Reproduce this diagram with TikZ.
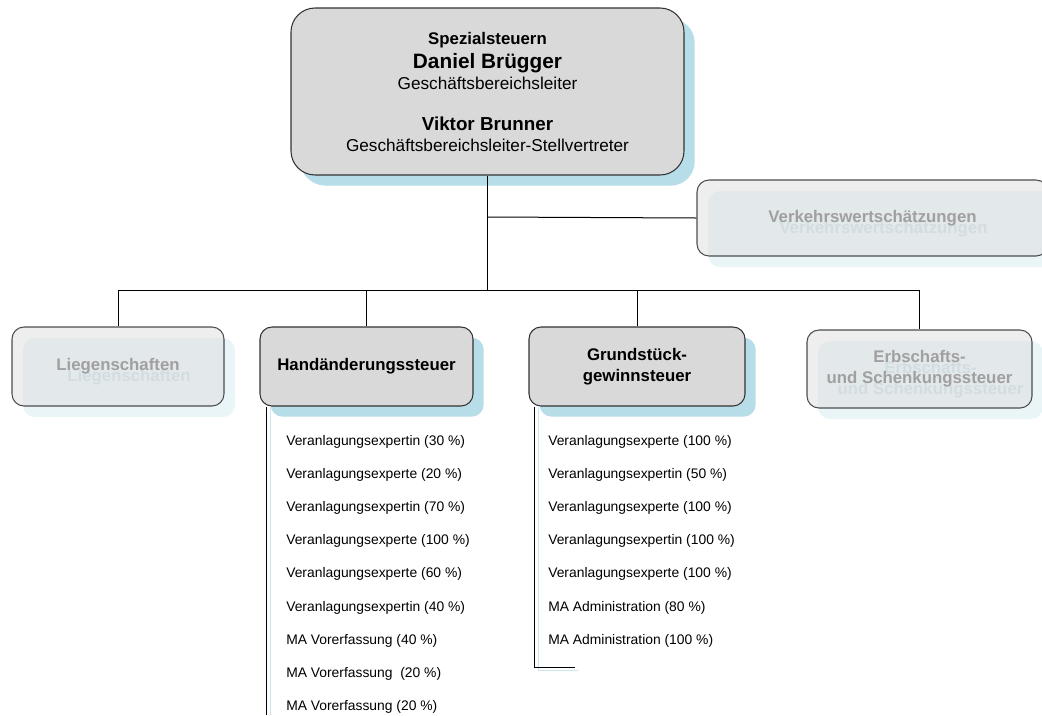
\documentclass[tikz,border=0pt]{standalone}
\usepackage{fontspec}
\setmainfont{Liberation Sans}
\usetikzlibrary{shadows,calc}
\definecolor{boxfill}{HTML}{D9D9D9}
\definecolor{boxline}{HTML}{333333}
\definecolor{shadowblue}{HTML}{B7DDE8}
\definecolor{fadefill}{HTML}{DDDDDD}
\definecolor{fadeshadow}{HTML}{EAF5F8}
\definecolor{fadetext}{HTML}{A0A0A0}
\definecolor{fadeshadowtext}{HTML}{C8DEE6}
\definecolor{fadeline}{HTML}{4D4D4D}
\begin{document}
\begin{tikzpicture}[x=0.75pt,y=-0.75pt,
  hdr/.style={font=\fontsize{12.6}{15.75}\selectfont\bfseries, align=center},
  unit/.style={draw=boxline, fill=boxfill, line width=0.8pt, rounded corners=9pt,
    inner sep=0pt, minimum height=59.25pt, hdr,
    general shadow={fill=shadowblue, shadow xshift=8pt, shadow yshift=-8pt}},
  fshadow/.style={fill=fadeshadow, draw=none, rounded corners=9pt, inner sep=0pt,
    minimum height=59.25pt, hdr, text=fadeshadowtext},
  fbox/.style={draw=fadeline, fill=fadefill, fill opacity=0.5, text opacity=1,
    line width=0.8pt, rounded corners=9pt, inner sep=0pt, minimum height=59.25pt,
    hdr, text=fadetext},
  item/.style={anchor=base west, inner sep=0pt, font=\fontsize{10.4}{12}\selectfont},
  conn/.style={line width=0.75pt, black},
  connshadow/.style={line width=0.75pt, shadowblue!70},
]
\useasboundingbox (0,0) rectangle (1042,715);

% top box
\node[unit, minimum width=294.75pt, minimum height=125.25pt, rounded corners=18pt,
  general shadow={fill=shadowblue, shadow xshift=7pt, shadow yshift=-7.5pt}] (top) at (487.5,91.5) {};
\node[anchor=base, font=\fontsize{12.6}{15}\selectfont\bfseries] (t1) at (487.5,44) {Spezialsteuern};
\node[anchor=base, font=\fontsize{15.6}{18}\selectfont\bfseries] (t2) at (487.5,68) {Daniel Brügger};
\node[anchor=base, font=\fontsize{12.9}{15}\selectfont] (t3) at (487.5,89) {Geschäftsbereichsleiter};
\node[anchor=base, font=\fontsize{14.1}{17}\selectfont\bfseries] (t4) at (487.5,130) {Viktor Brunner};
\node[anchor=base, font=\fontsize{12.9}{15}\selectfont] (t5) at (487.5,151) {Geschäftsbereichsleiter-Stellvertreter};

% faded boxes (shadow first)
\node[fshadow, minimum width=263.25pt, minimum height=57pt] (verks) at (883.5,229) {Verkehrswertschätzungen};
\node[fbox, minimum width=263.25pt, minimum height=57pt] (verk) at (872.5,218) {Verkehrswertschätzungen};

\node[fshadow, minimum width=159pt] (liegs) at (129,377.5) {Liegenschaften};
\node[fbox, minimum width=159pt] (lieg) at (118,366.5) {Liegenschaften};

\node[fshadow, minimum width=168.75pt, minimum height=58.5pt] (erbs) at (930.5,380) {Erbschafts-\\und Schenkungssteuer};
\node[fbox, minimum width=168.75pt, minimum height=58.5pt] (erb) at (919.5,369) {Erbschafts-\\und Schenkungssteuer};

% active boxes
\node[unit, minimum width=159.75pt] (hand) at (366.5,366.5) {Handänderungssteuer};
\node[unit, minimum width=162pt] (grund) at (637,366.5) {Grundstück-\\gewinnsteuer};

% connectors
\coordinate (j1) at (487.5,217);
\coordinate (j2) at (487.5,290);
\draw[conn] (top.south) -- (j2);
\draw[conn] (j1) -- (verk.west);
\draw[conn] (j2) -| (lieg.north);
\draw[conn] (j2) -| (hand.north);
\draw[conn] (j2) -| (grund.north);
\draw[conn] (j2) -| (erb.north);

% list lines
\coordinate (hl) at (266,715);
\coordinate (hls) at (270,715);
\coordinate (gl) at (534,667);
\coordinate (gle) at (575,667);
\coordinate (gls) at (538,670);
\coordinate (glse) at (578,670);
\draw[connshadow] (hand.south -| hls) -- (hls);
\draw[conn] (hand.south -| hl) -- (hl);
\draw[connshadow] (grund.south -| gls) -- (gls) -- (glse);
\draw[conn] (grund.south -| gl) -- (gl) -- (gle);

% Handänderungssteuer items
\node[item] (h1) at (286,445) {Veranlagungsexpertin (30 \%)};
\node[item] (h2) at (286,478.2) {Veranlagungsexperte (20 \%)};
\node[item] (h3) at (286,511.4) {Veranlagungsexpertin (70 \%)};
\node[item] (h4) at (286,544.6) {Veranlagungsexperte (100 \%)};
\node[item] (h5) at (286,577.8) {Veranlagungsexperte (60 \%)};
\node[item] (h6) at (286,611) {Veranlagungsexpertin (40 \%)};
\node[item] (h7) at (286,644.2) {MA Vorerfassung (40 \%)};
\node[item] (h8) at (286,677.4) {MA Vorerfassung\ \ (20 \%)};
\node[item] (h9) at (286,710.6) {MA Vorerfassung (20 \%)};

% Grundstückgewinnsteuer items
\node[item] (g1) at (548,445) {Veranlagungsexperte (100 \%)};
\node[item] (g2) at (548,478.2) {Veranlagungsexpertin (50 \%)};
\node[item] (g3) at (548,511.4) {Veranlagungsexperte (100 \%)};
\node[item] (g4) at (548,544.6) {Veranlagungsexpertin (100 \%)};
\node[item] (g5) at (548,577.8) {Veranlagungsexperte (100 \%)};
\node[item] (g6) at (548,611) {MA Administration (80 \%)};
\node[item] (g7) at (548,644.2) {MA Administration (100 \%)};
\end{tikzpicture}
\end{document}
